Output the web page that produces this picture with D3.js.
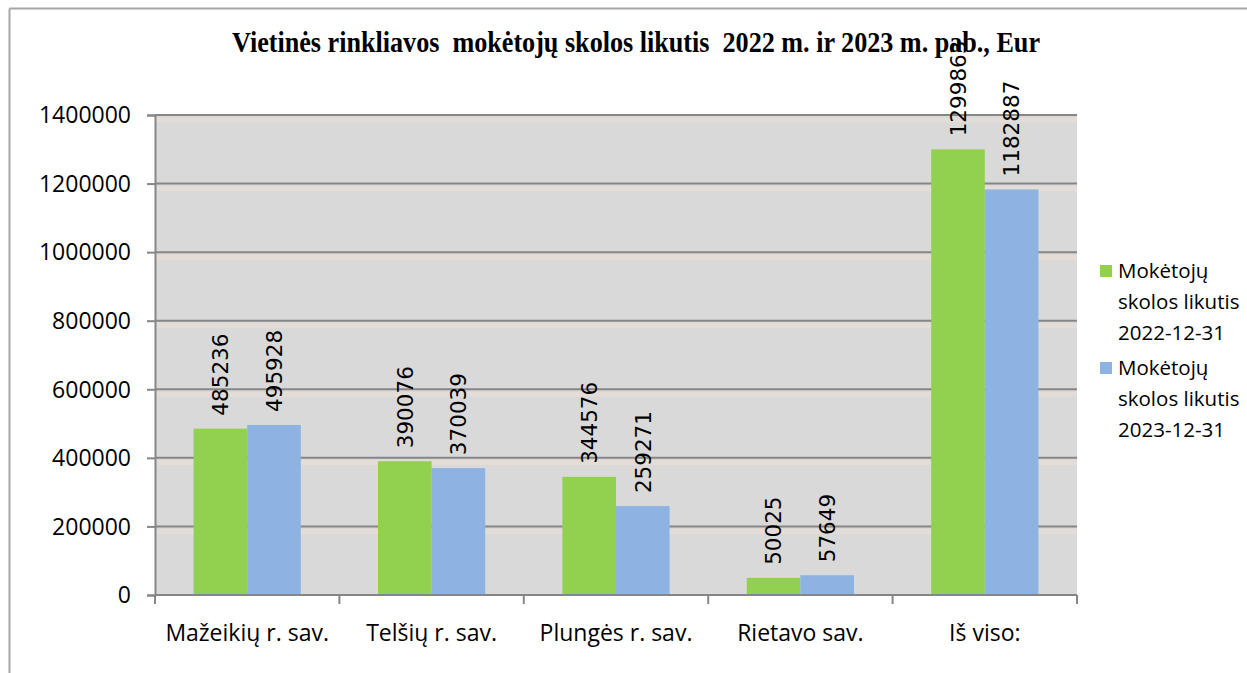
<!DOCTYPE html>
<html>
<head>
<meta charset="utf-8">
<script src="https://cdn.jsdelivr.net/npm/d3@7"></script>
<style>
  body { margin: 0; background: #fff; }
  svg { display: block; }
  .title { font-family: "Liberation Serif", "Times New Roman", serif; font-weight: bold; white-space: pre; }
  .tick text, .catlabel, .legend { font-family: "Open Sans", sans-serif; fill: #000; }
  .vlabel { font-family: "DejaVu Sans", sans-serif; fill: #000; }
</style>
</head>
<body>
<svg id="chart" width="1247" height="673"></svg>
<script>
const categories = ["Mažeikių r. sav.", "Telšių r. sav.", "Plungės r. sav.", "Rietavo sav.", "Iš viso:"];
const seriesNames = ["Mokėtojų skolos likutis 2022-12-31", "Mokėtojų skolos likutis 2023-12-31"];
const debt2022 = [485236, 390076, 344576, 50025, 1299863];
const debt2023 = [495928, 370039, 259271, 57649, 1182887];
const yTicks = [0, 200000, 400000, 600000, 800000, 1000000, 1200000, 1400000];
const colors = ["#92d050", "#8db3e2"];

const svg = d3.select("#chart");

// outer chart frame (only top and left edges are visible)
svg.append("line").attr("x1", 9.5).attr("x2", 1247).attr("y1", 8.5).attr("y2", 8.5)
    .attr("stroke", "#a6a6a6").attr("stroke-width", 2);
svg.append("line").attr("x1", 9.5).attr("x2", 9.5).attr("y1", 8.5).attr("y2", 673)
    .attr("stroke", "#a6a6a6").attr("stroke-width", 2);

const pLeft = 155, pRight = 1077, pTop = 115, pBottom = 595;

let yScale = d3.scaleLinear().domain([0, 1400000]).range([pBottom, pTop]);
let x0 = d3.scaleBand().domain(categories).range([pLeft, pRight]).padding(0);
let x1 = d3.scaleBand().domain([0, 1]).range([0, x0.bandwidth()]).paddingInner(0).paddingOuter(0.72);

// plot background
svg.append("rect").attr("x", pLeft).attr("y", pTop).attr("width", pRight - pLeft).attr("height", pBottom - pTop)
    .attr("fill", "#d9d9d9");

// faint bands under gridlines
svg.append("g").selectAll("line").data(yTicks.filter(d => d > 0)).join("line")
    .attr("x1", pLeft).attr("x2", pRight)
    .attr("y1", d => yScale(d) + 5).attr("y2", d => yScale(d) + 5)
    .attr("stroke", "#e3dcd7").attr("stroke-width", 5);

// gridlines
svg.append("g").selectAll("line").data(yTicks.filter(d => d > 0)).join("line")
    .attr("x1", pLeft).attr("x2", pRight)
    .attr("y1", d => yScale(d)).attr("y2", d => yScale(d))
    .attr("stroke", "#868686").attr("stroke-width", 2);

// bars
let series = [debt2022, debt2023];
let groups = svg.append("g").selectAll("g").data(series).join("g")
    .attr("fill", (d, i) => colors[i]);
groups.selectAll("rect").data((d, i) => d.map((v, j) => ({ v: v, s: i, c: categories[j] }))).join("rect")
    .attr("x", d => x0(d.c) + x1(d.s))
    .attr("width", x1.bandwidth())
    .attr("y", d => yScale(d.v))
    .attr("height", d => pBottom - yScale(d.v));

// y axis
let yAxis = d3.axisLeft(yScale).tickValues(yTicks).tickSize(8).tickPadding(16).tickFormat(d => d);
let ya = svg.append("g").attr("transform", `translate(${pLeft},0)`).call(yAxis);
ya.select(".domain").attr("stroke", "#868686").attr("stroke-width", 2);
ya.selectAll(".tick line").attr("stroke", "#868686").attr("stroke-width", 2);
ya.selectAll(".tick text").attr("font-size", 23).attr("dy", "0.34em");

// x axis
let boundaries = categories.map(c => x0(c)).concat([pRight]);
svg.append("line").attr("x1", pLeft).attr("x2", pRight).attr("y1", pBottom).attr("y2", pBottom)
    .attr("stroke", "#868686").attr("stroke-width", 2);
svg.append("g").selectAll("line").data(boundaries).join("line")
    .attr("x1", d => d).attr("x2", d => d).attr("y1", pBottom).attr("y2", pBottom + 9)
    .attr("stroke", "#868686").attr("stroke-width", 2);
svg.append("g").selectAll("text").data(categories).join("text")
    .attr("class", "catlabel")
    .attr("x", d => x0(d) + x0.bandwidth() / 2)
    .attr("y", 641)
    .attr("text-anchor", "middle")
    .attr("font-size", 23)
    .text(d => d);

// title
svg.append("text").attr("class", "title")
    .attr("x", 232).attr("y", 52)
    .attr("font-size", 29)
    .attr("textLength", 808).attr("lengthAdjust", "spacingAndGlyphs")
    .text("Vietinės rinkliavos  mokėtojų skolos likutis  2022 m. ir 2023 m. pab., Eur");

// value labels
groups.selectAll("text").data((d, i) => d.map((v, j) => ({ v: v, s: i, c: categories[j] }))).join("text")
    .attr("class", "vlabel")
    .attr("font-size", 21.5)
    .attr("transform", d => `translate(${x0(d.c) + x1(d.s) + x1.bandwidth() / 2},${yScale(d.v) - 13}) rotate(-90)`)
    .attr("dy", "0.36em")
    .attr("text-anchor", "start")
    .text(d => d.v);

// legend
let legendLines = [["Mokėtojų", "skolos likutis", "2022-12-31"], ["Mokėtojų", "skolos likutis", "2023-12-31"]];
let lg = svg.append("g").selectAll("g").data(legendLines).join("g")
    .attr("transform", (d, i) => `translate(1100,${265 + i * 97})`);
lg.append("rect").attr("width", 12).attr("height", 12).attr("fill", (d, i) => colors[i]);
lg.selectAll("text").data(d => d).join("text")
    .attr("class", "legend")
    .attr("x", 18).attr("y", (d, i) => 13 + i * 31)
    .attr("font-size", 20.5)
    .text(d => d);
</script>
</body>
</html>
